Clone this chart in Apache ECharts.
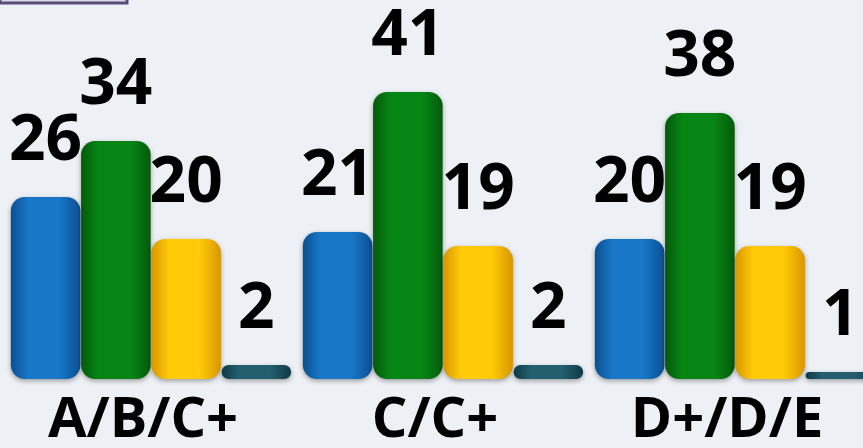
<!DOCTYPE html>
<html>
<head>
<meta charset="utf-8">
<script src="https://cdn.jsdelivr.net/npm/echarts@6/dist/echarts.min.js"></script>
<style>
  html, body { margin: 0; padding: 0; background: #edf0f4; }
  #chart { width: 863px; height: 448px; }
</style>
</head>
<body>
<div id="chart"></div>
<script>
var categories = ['A/B/C+', 'C/C+', 'D+/D/E'];
var blueValues = [26, 21, 20];
var greenValues = [34, 41, 38];
var yellowValues = [20, 19, 19];
var tealValues = [2, 2, 1];

// horizontal gradient so the bars look like cylinders
function tube(edge, mid) {
    return new echarts.graphic.LinearGradient(0, 0, 1, 0, [
        { offset: 0, color: edge },
        { offset: 0.25, color: mid },
        { offset: 0.7, color: mid },
        { offset: 1, color: edge }
    ]);
}

function barSeries(name, data, edge, mid) {
    return {
        name: name,
        type: 'bar',
        data: data,
        barGap: '1%',
        barCategoryGap: '4%',
        itemStyle: {
            color: tube(edge, mid),
            borderRadius: 14,
            shadowBlur: 5,
            shadowOffsetY: 2,
            shadowColor: 'rgba(0,0,0,0.35)'
        },
        label: {
            show: true,
            position: 'top',
            distance: 23,
            color: '#000',
            fontFamily: 'Open Sans',
            fontWeight: 'bold',
            fontSize: 64
        }
    };
}

var chart = echarts.init(document.getElementById('chart'));
chart.setOption({
    backgroundColor: '#edf0f4',
    animation: false,
    graphic: [{
        type: 'rect',
        shape: { x: 0, y: -12, width: 127, height: 15 },
        style: { fill: '#d9dbe4', stroke: '#5b4d7a', lineWidth: 3 }
    }],
    grid: { left: 5, top: 29, width: 876, bottom: 69, outerBoundsMode: 'none' },
    xAxis: {
        type: 'category',
        data: categories,
        axisLine: { show: false },
        axisTick: { show: false },
        axisLabel: {
            color: '#000',
            fontFamily: 'Open Sans',
            fontWeight: 'bold',
            fontSize: 56,
            margin: 14,
            padding: [0, 16, 0, 0]
        }
    },
    yAxis: {
        type: 'value',
        min: 0,
        max: 50,
        show: false
    },
    series: [
        barSeries('blue', blueValues, '#0b4f93', '#1877c6'),
        barSeries('green', greenValues, '#045a0a', '#078615'),
        barSeries('yellow', yellowValues, '#d99500', '#ffca08'),
        barSeries('teal', tealValues, '#0f3a46', '#245f6e')
    ]
});
</script>
</body>
</html>
